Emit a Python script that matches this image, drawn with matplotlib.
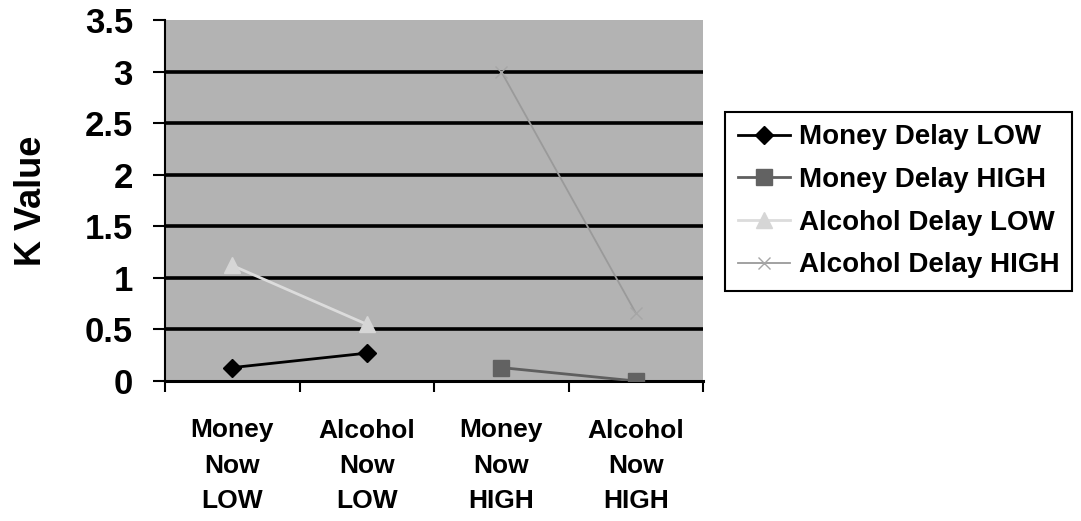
import matplotlib
matplotlib.use("Agg")
import matplotlib.pyplot as plt
import numpy as np

categories = ["Money\nNow\nLOW", "Alcohol\nNow\nLOW", "Money\nNow\nHIGH", "Alcohol\nNow\nHIGH"]
money_delay_low_x = [0, 1]
money_delay_low = [0.13, 0.27]
money_delay_high_x = [2, 3]
money_delay_high = [0.13, 0.0]
alcohol_delay_low_x = [0, 1]
alcohol_delay_low = [1.12, 0.55]
alcohol_delay_high_x = [2, 3]
alcohol_delay_high = [3.0, 0.66]
yticks = [0, 0.5, 1, 1.5, 2, 2.5, 3, 3.5]
ytick_labels = ["0", "0.5", "1", "1.5", "2", "2.5", "3", "3.5"]

plt.rcParams['font.family'] = ['Liberation Sans', 'DejaVu Sans']
plt.rcParams['font.weight'] = 'bold'

fig = plt.figure(figsize=(10.81, 5.21), dpi=100)
ax = fig.add_axes([165/1081, 1-381/521, (703-165)/1081, (381-20)/521])
ax.set_facecolor('#b3b3b3')

for y in yticks[1:-1]:
    ax.axhline(y, color='black', lw=2.6, zorder=1)

ax.plot(money_delay_low_x, money_delay_low, color='black', lw=2, marker='D',
        markersize=9, markerfacecolor='black', markeredgecolor='black', label='Money Delay LOW', zorder=3)
ax.plot(money_delay_high_x, money_delay_high, color='#5f5f5f', lw=2, marker='s',
        markersize=12, markerfacecolor='#626262', markeredgecolor='#626262', label='Money Delay HIGH', zorder=3)
ax.plot(alcohol_delay_low_x, alcohol_delay_low, color='#dcdcdc', lw=2, marker='^',
        markersize=12, markerfacecolor='#d6d6d6', markeredgecolor='#d6d6d6', label='Alcohol Delay LOW', zorder=3)
ax.plot(alcohol_delay_high_x, alcohol_delay_high, color='#9a9a9a', lw=1.3, marker='x',
        markersize=9, markeredgecolor='#a6a6a6', label='Alcohol Delay HIGH', zorder=3)

ax.set_xlim(-0.5, 3.5)
ax.set_ylim(0, 3.5)
ax.set_yticks(yticks)
ax.set_yticklabels(ytick_labels, fontsize=25, fontweight='bold')
ax.set_xticks([-0.5, 0.5, 1.5, 2.5, 3.5])
ax.set_xticklabels([])
ax.set_xticks(range(4), minor=True)
ax.set_xticklabels(categories, minor=True, fontsize=19, fontweight='bold', linespacing=1.6)
ax.tick_params(axis='x', which='major', direction='out', length=8, width=1.5, color='black')
ax.tick_params(axis='x', which='minor', length=0, pad=27)
ax.tick_params(axis='y', direction='out', length=9, width=1.5, pad=14)

for s in ['top', 'right']:
    ax.spines[s].set_visible(False)
ax.spines['left'].set_linewidth(1.5)
ax.spines['bottom'].set_linewidth(2.2)

ax.set_ylabel('K Value', fontsize=26, fontweight='bold', labelpad=26)

leg = fig.legend(loc='upper left', bbox_to_anchor=(725/1081, 1-112/521), bbox_transform=fig.transFigure,
                 fontsize=20, frameon=True, fancybox=False, edgecolor='black', framealpha=1,
                 handlelength=1.9, borderaxespad=0, labelspacing=0.6, handletextpad=0.3,
                 borderpad=0.45)
leg.get_frame().set_linewidth(1.5)
for t in leg.get_texts():
    t.set_fontweight('bold')

fig.savefig('out.png', dpi=100)
